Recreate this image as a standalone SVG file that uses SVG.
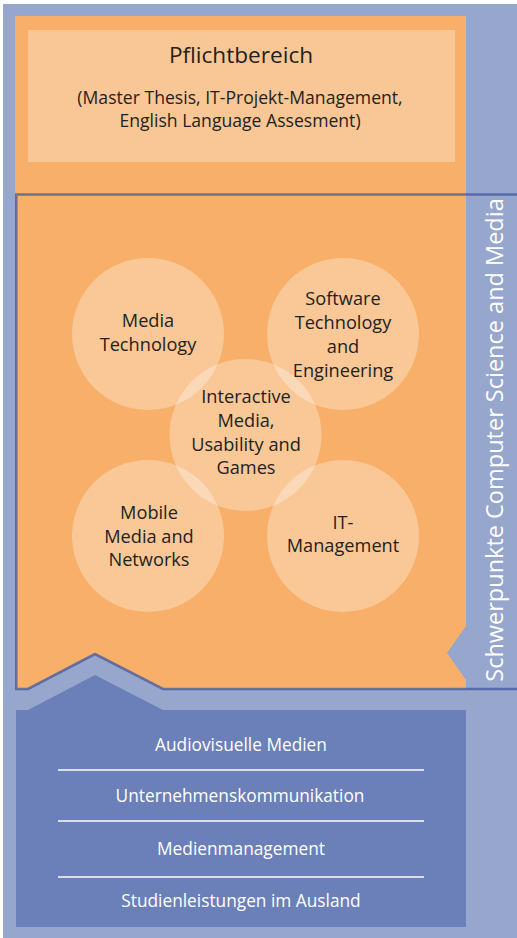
<svg xmlns="http://www.w3.org/2000/svg" width="517" height="938" viewBox="0 0 517 938">
<style>
.dk{font-family:"Open Sans","Liberation Sans",sans-serif;fill:#231F20;text-anchor:middle;font-weight:500}
.wt{font-family:"Open Sans","Liberation Sans",sans-serif;fill:#FFFFFF;text-anchor:middle;font-weight:500}
.c{font-size:18.2px}
.b{font-size:17.3px}
.circ{fill:#FFFFFF;fill-opacity:0.31}
.sep{stroke:#FFFFFF;stroke-width:1.6}
.edge{fill:none;stroke:#3F56A0;stroke-opacity:0.72;stroke-width:2.6}
</style>
<rect x="0" y="0" width="517" height="938" fill="#FFFFFF"/>
<rect x="3" y="4" width="514" height="934" fill="#97A6CD"/>
<g id="pflichtbereich">
<rect x="15" y="16" width="451" height="180" fill="#F8AF69"/>
<rect x="28" y="30" width="427" height="132" fill="#F9C795"/>
<text class="dk" x="241" y="63" font-size="22.6">Pflichtbereich</text>
<text class="dk" x="240" y="104" font-size="17.6">(Master Thesis, IT-Projekt-Management,</text>
<text class="dk" x="240" y="127" font-size="17.6">English Language Assesment)</text>
</g>
<g id="schwerpunkte">
<path d="M16,194 L466,194 L466,626 L447,653 L466,680 L466,689 L163,689 L95,654 L28,689 L16,689 Z" fill="#F8AF69"/>
<g id="media-technology">
<circle class="circ" cx="148" cy="334" r="76"/>
<text class="dk c" x="148" y="327">Media</text>
<text class="dk c" x="148" y="351">Technology</text>
</g>
<g id="software-technology">
<circle class="circ" cx="343" cy="334" r="76"/>
<text class="dk c" x="343" y="305">Software</text>
<text class="dk c" x="343" y="329">Technology</text>
<text class="dk c" x="343" y="353">and</text>
<text class="dk c" x="343" y="377">Engineering</text>
</g>
<g id="interactive-media">
<circle class="circ" cx="245.5" cy="435" r="76"/>
<text class="dk c" x="246" y="403">Interactive</text>
<text class="dk c" x="246" y="427">Media,</text>
<text class="dk c" x="246" y="451">Usability and</text>
<text class="dk c" x="246" y="474">Games</text>
</g>
<g id="mobile-media">
<circle class="circ" cx="148" cy="536" r="76"/>
<text class="dk c" x="149" y="519">Mobile</text>
<text class="dk c" x="149" y="543">Media and</text>
<text class="dk c" x="149" y="566">Networks</text>
</g>
<g id="it-management">
<circle class="circ" cx="343" cy="536" r="76"/>
<text class="dk c" x="343" y="529">IT-</text>
<text class="dk c" x="343" y="552">Management</text>
</g>
<text class="wt" font-size="23.5" transform="translate(502.5,440) rotate(-90)">Schwerpunkte Computer Science and Media</text>
</g>
<g id="connectors">
<path class="edge" d="M517,194.5 L16.3,194.5 L16.3,689 L28,689 L95,654 L163,689 L517,689"/>
</g>
<g id="wahlbereich">
<path d="M16,710 L28,710 L95,675 L163,710 L466,710 L466,927 L16,927 Z" fill="#6B80B9"/>
<text class="wt b" x="241" y="751">Audiovisuelle Medien</text>
<line class="sep" x1="58" y1="770" x2="424" y2="770"/>
<text class="wt b" x="240" y="802">Unternehmenskommunikation</text>
<line class="sep" x1="58" y1="821" x2="424" y2="821"/>
<text class="wt b" x="241" y="855">Medienmanagement</text>
<line class="sep" x1="58" y1="877" x2="424" y2="877"/>
<text class="wt b" x="241" y="907">Studienleistungen im Ausland</text>
</g>
</svg>
